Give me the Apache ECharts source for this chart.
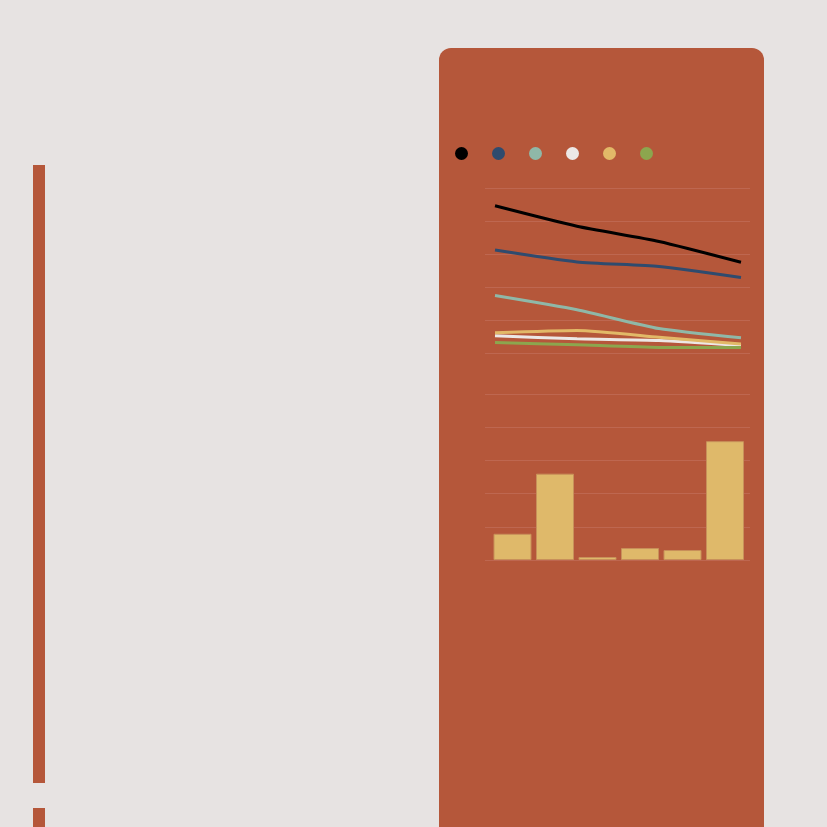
<!DOCTYPE html>
<html>
<head>
<meta charset="utf-8">
<script src="https://cdn.jsdelivr.net/npm/echarts@6/dist/echarts.min.js"></script>
<style>
    html, body {margin: 0; padding: 0; background: #e7e3e2;}
    #main {width: 827px; height: 827px;}
</style>
</head>
<body>
<div id="main"></div>
<script>
// 折线数据 (4 个时间点)
var linePoints = [0, 1, 2, 3];
var seriesNames = ['S1', 'S2', 'S3', 'S4', 'S5', 'S6'];
var seriesColors = ['#000000', '#2f4b6e', '#8fb8a8', '#ece8e6', '#e2b968', '#8ca64e'];
var blackVals = [44.6, 38.4, 33.8, 27.5];
var blueVals = [31.2, 27.6, 26.2, 22.9];
var tealVals = [17.4, 13.1, 7.4, 4.6];
var whiteVals = [5.2, 4.3, 3.8, 2.3];
var yellowVals = [6.1, 6.8, 4.8, 2.7];
var greenVals = [3.2, 2.5, 1.7, 1.7];
// 柱状数据
var barPoints = [0, 1, 2, 3, 4, 5];
var barVals = [7.9, 26, 0.9, 3.6, 3.0, 35.8];

var panelColor = '#b5573a';
var gridLineColor = '#be6750';

function pairs(xs, ys) {
    return xs.map(function (x, i) { return [x, ys[i]]; });
}

var chart = echarts.init(document.getElementById('main'));
var lineSets = [blackVals, blueVals, tealVals, whiteVals, yellowVals, greenVals];
var series = lineSets.map(function (vals, i) {
    return {
        name: seriesNames[i],
        type: 'line',
        xAxisIndex: 0,
        yAxisIndex: 0,
        data: pairs(linePoints, vals),
        showSymbol: false,
        smooth: 0.2,
        lineStyle: {color: seriesColors[i], width: 3},
        itemStyle: {color: seriesColors[i]}
    };
});
series.push({
    type: 'bar',
    xAxisIndex: 1,
    yAxisIndex: 1,
    data: pairs(barPoints, barVals),
    barWidth: 38,
    itemStyle: {color: '#dfb96a', borderColor: '#c8905a', borderWidth: 1}
});

var option = {
    backgroundColor: '#e7e3e2',
    animation: false,
    graphic: [
        //左侧装饰条
        {type: 'rect', shape: {x: 33, y: 165, width: 12, height: 618}, style: {fill: panelColor}},
        {type: 'rect', shape: {x: 33, y: 808, width: 12, height: 30}, style: {fill: panelColor}},
        //右侧面板
        {type: 'rect', z: -10, shape: {x: 439, y: 48, width: 325, height: 820, r: 12}, style: {fill: panelColor}}
    ],
    legend: {
        left: 450,
        top: 142,
        icon: 'circle',
        itemWidth: 13,
        itemHeight: 13,
        itemGap: 24,
        formatter: function () { return ''; },
        data: seriesNames
    },
    grid: [
        {left: 485, right: 77, top: 188, height: 165},
        {left: 485, right: 77, top: 394, height: 166}
    ],
    xAxis: [
        {gridIndex: 0, type: 'value', min: -0.122, max: 3.11, show: false},
        {gridIndex: 1, type: 'value', min: -0.647, max: 5.588, show: false}
    ],
    yAxis: [
        {gridIndex: 0, type: 'value', min: 0, max: 50, interval: 10,
            axisLabel: {show: false}, axisLine: {show: false}, axisTick: {show: false},
            splitLine: {lineStyle: {color: gridLineColor, width: 1}}},
        {gridIndex: 1, type: 'value', min: 0, max: 50, interval: 10,
            axisLabel: {show: false}, axisLine: {show: false}, axisTick: {show: false},
            splitLine: {lineStyle: {color: gridLineColor, width: 1}}}
    ],
    series: series
};
chart.setOption(option);
</script>
</body>
</html>
